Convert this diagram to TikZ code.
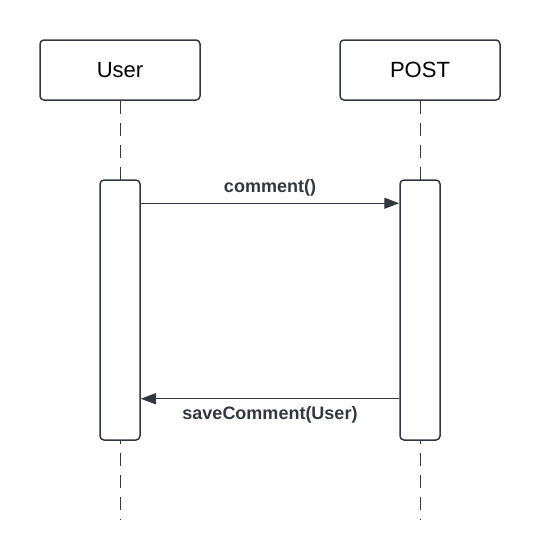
\documentclass[tikz,border=0pt]{standalone}
\usepackage{fontspec}
\setmainfont{Liberation Sans}
\usetikzlibrary{arrows.meta}
\definecolor{ink}{RGB}{51,55,64}
\tikzset{
 actor/.style={draw=ink,line width=1.5pt,fill=white,rounded corners=4pt,minimum width=160pt,minimum height=60pt,inner sep=0pt,font=\fontsize{22}{26}\selectfont},
 bar/.style={draw=ink,line width=1.5pt,fill=white,rounded corners=4pt,minimum width=40pt,minimum height=260pt,inner sep=0pt},
 life/.style={draw=ink,line width=1pt,dash pattern=on 13pt off 9pt},
 msg/.style={draw=ink,line width=1pt,-{Triangle[length=15pt,width=11pt]}},
 lbl/.style={text=ink,font=\bfseries\fontsize{18}{22}\selectfont,inner sep=0pt}
}
\begin{document}
\begin{tikzpicture}[x=1pt,y=-1pt]
 \useasboundingbox (0,0) rectangle (540,560);
 \node[actor] (user) at (120,70) {User};
 \node[actor] (post) at (420,70) {POST};
 \coordinate (userend) at (120,520);
 \coordinate (postend) at (420,520);
 \draw[life] (user.south) -- (userend);
 \draw[life] (post.south) -- (postend);
 \node[bar] (userbar) at (120,310) {};
 \node[bar] (postbar) at (420,310) {};
 \draw[msg] ([yshift=-24pt]userbar.north east) -- node[lbl,above=7pt] (comment) {comment()} ([yshift=-24pt]postbar.north west);
 \draw[msg] ([yshift=42pt]postbar.south west) -- node[lbl,below=7pt] (save) {saveComment(User)} ([yshift=42pt]userbar.south east);
\end{tikzpicture}
\end{document}
